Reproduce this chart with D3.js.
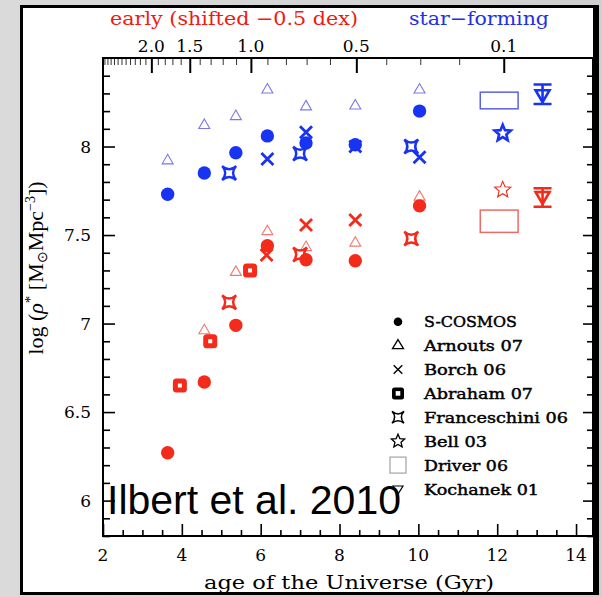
<!DOCTYPE html>
<html><head><meta charset="utf-8">
<script src="https://cdn.jsdelivr.net/npm/d3@7"></script>
<style>body{margin:0;background:#d4d4d4;} svg{display:block}</style>
</head><body><svg id="c" width="602" height="597"></svg>
<script>
// ---------------- data ----------------
const ageCOSMOS   = [3.64, 4.57, 5.37, 6.17, 7.15, 8.40, 10.03];
const sfCOSMOS    = [7.73, 7.85, 7.965, 8.06, 8.02, 8.01, 8.20];
const earlyCOSMOS = [6.27, 6.67, 6.99, 7.44, 7.36, 7.355, 7.665];

const ageArnoutsSF    = [3.64, 4.57, 5.37, 6.17, 7.15, 8.40, 10.03];
const sfArnouts       = [7.92, 8.12, 8.17, 8.32, 8.225, 8.23, 8.32];
const ageArnoutsEarly = [4.57, 5.37, 6.17, 7.15, 8.40, 10.03];
const earlyArnouts    = [6.96, 7.29, 7.52, 7.43, 7.455, 7.715];

const ageBorchSF    = [6.17, 7.15, 8.40, 10.03];
const sfBorch       = [7.93, 8.08, 8.00, 7.94];
const ageBorchEarly = [6.15, 7.15, 8.40];
const earlyBorch    = [7.387, 7.557, 7.585];

const ageAbraham   = [3.95, 4.72, 5.73];
const earlyAbraham = [6.65, 6.90, 7.30];

const ageFranceschini   = [5.20, 7.00, 9.82];
const sfFranceschini    = [7.85, 7.96, 8.00];
const earlyFranceschini = [7.12, 7.39, 7.48];

const ageBell = [12.14], sfBell = [8.075], earlyBell = [7.755];

const ageDriver = [12.05], ageDriverErr = [0.48];
const sfDriver = [8.26], sfDriverErr = [0.047];
const earlyDriver = [7.578], earlyDriverErr = [0.063];

const ageKochanek = [13.15];
const sfKochanek = [8.29], sfKochanekLo = [8.24], sfKochanekHi = [8.35];
const earlyKochanek = [7.715], earlyKochanekLo = [7.66], earlyKochanekHi = [7.764];

const legendLabels = ["S-COSMOS","Arnouts 07","Borch 06","Abraham 07","Franceschini 06","Bell 03","Driver 06","Kochanek 01"];
const xTickLabels = [2, 4, 6, 8, 10, 12, 14];
const yTickLabels = [6, 6.5, 7, 7.5, 8];
const zTickLabels = ["2.0", "1.5", "1.0", "0.5", "0.1"];

// ---------------- setup ----------------
const svg = d3.select("#c");
const BLUE = "#1834f2", RED = "#f42a1a", LBLUE = "#7a78e6", LRED = "#f07a70";
const SERIF = "'DejaVu Serif', serif";

const x = d3.scaleLinear([2, 14.43], [103, 593]);
const y = d3.scaleLinear([5.8, 8.5], [536, 58]);

// age of universe for redshift (flat LCDM, h=0.7, Om=0.3) for top axis
function ageOfZ(z) {
  const tH = 977.8 / 70, Om = 0.3, OL = 0.7;
  return (2 / 3) * tH / Math.sqrt(OL) * Math.asinh(Math.sqrt(OL / Om) * Math.pow(1 + z, -1.5));
}

// background
const defs = svg.append("defs");
const grad = defs.append("linearGradient").attr("id", "bg").attr("x1", 0).attr("x2", 1);
grad.append("stop").attr("offset", "0").attr("stop-color", "#dadada");
grad.append("stop").attr("offset", "1").attr("stop-color", "#cfcfcf");
svg.append("rect").attr("width", 602).attr("height", 597).attr("fill", "url(#bg)");
svg.append("rect").attr("x", 21.5).attr("y", 6.5).attr("width", 574).attr("height", 587)
  .attr("fill", "#fff").attr("stroke", "#000").attr("stroke-width", 3);
svg.append("rect").attr("x", 593).attr("y", 5).attr("width", 6).attr("height", 590).attr("fill", "#000");

// ---------------- axes ----------------
const plot = svg.append("g");
function styleAxis(g) {
  g.select(".domain").remove();
  g.selectAll("line").attr("stroke", "#000").attr("stroke-width", 1.6);
  g.selectAll("text").remove();
}
const xMinor = d3.range(2, 14.5, 0.5).filter(v => v % 2 !== 0);
plot.append("g").attr("transform", `translate(0,${y.range()[0]})`)
  .call(d3.axisTop(x).tickValues(xMinor).tickSize(6)).call(styleAxis);
plot.append("g").attr("transform", `translate(0,${y.range()[0]})`)
  .call(d3.axisTop(x).tickValues(xTickLabels).tickSize(12)).call(styleAxis);

const yMinor = d3.range(5.8, 8.51, 0.1).map(v => +v.toFixed(1)).filter(v => Math.abs(v * 2 - Math.round(v * 2)) > 1e-6);
plot.append("g").attr("transform", `translate(${x.range()[0]},0)`)
  .call(d3.axisRight(y).tickValues(yMinor).tickSize(7)).call(styleAxis);
plot.append("g").attr("transform", `translate(${x.range()[0]},0)`)
  .call(d3.axisRight(y).tickValues(yTickLabels).tickSize(12)).call(styleAxis);
plot.append("g").attr("transform", `translate(${x.range()[1]},0)`)
  .call(d3.axisLeft(y).tickValues(yMinor).tickSize(6)).call(styleAxis);
plot.append("g").attr("transform", `translate(${x.range()[1]},0)`)
  .call(d3.axisLeft(y).tickValues(yTickLabels).tickSize(10)).call(styleAxis);

// top redshift axis
const zMajor = zTickLabels.map(Number);
const zMinor = d3.range(0.2, 3.15, 0.1).map(v => +v.toFixed(1)).filter(v => !zMajor.includes(v));
plot.append("g").attr("transform", `translate(0,${y.range()[1]})`)
  .call(d3.axisBottom(x).tickValues(zMinor.map(ageOfZ)).tickSize(7)).call(styleAxis)
  .selectAll("line").attr("stroke-width", 1).attr("stroke", "#333");
plot.append("g").attr("transform", `translate(0,${y.range()[1]})`)
  .call(d3.axisBottom(x).tickValues(zMajor.map(ageOfZ)).tickSize(15)).call(styleAxis)
  .selectAll("line").attr("stroke-width", 2);

// box
plot.append("rect").attr("x", x.range()[0]).attr("y", y.range()[1])
  .attr("width", x.range()[1] - x.range()[0]).attr("height", y.range()[0] - y.range()[1])
  .attr("fill", "none").attr("stroke", "#000").attr("stroke-width", 2);

// tick labels
svg.append("g").selectAll("text").data(xTickLabels).join("text")
  .attr("x", d => x(d)).attr("y", 561).attr("text-anchor", "middle")
  .attr("font-family", SERIF).attr("font-size", 17).text(d => d);
svg.append("g").selectAll("text").data(yTickLabels).join("text")
  .attr("x", 91).attr("y", d => y(d) + 6).attr("text-anchor", "end")
  .attr("font-family", SERIF).attr("font-size", 17).text(d => d);
svg.append("g").selectAll("text").data(zTickLabels).join("text")
  .attr("x", d => x(ageOfZ(+d))).attr("y", 52).attr("text-anchor", "middle")
  .attr("font-family", SERIF).attr("font-size", 17).text(d => d);

// titles
svg.append("text").attr("x", 110).attr("y", 25).attr("fill", "#f01a10")
  .attr("font-family", SERIF).attr("font-size", 18.5)
  .attr("textLength", 248).attr("lengthAdjust", "spacingAndGlyphs").text("early (shifted \u22120.5 dex)");
svg.append("text").attr("x", 409).attr("y", 25).attr("fill", "#2030e6")
  .attr("font-family", SERIF).attr("font-size", 18.5)
  .attr("textLength", 140).attr("lengthAdjust", "spacingAndGlyphs").text("star\u2212forming");
svg.append("text").attr("x", 204).attr("y", 589)
  .attr("font-family", SERIF).attr("font-size", 19)
  .attr("textLength", 290).attr("lengthAdjust", "spacingAndGlyphs").text("age of the Universe (Gyr)");

const yt = svg.append("text").attr("transform", "translate(43,268) rotate(-90)")
  .attr("text-anchor", "middle").attr("font-family", "'Liberation Serif', serif").attr("font-size", 22);
yt.append("tspan").text("log (");
yt.append("tspan").attr("font-style", "italic").text("\u03c1");
yt.append("tspan").attr("dy", -8).attr("font-size", 15).text("*");
yt.append("tspan").attr("dy", 8).text(" [M");
yt.append("tspan").attr("dy", 4).attr("font-size", 14).text("\u2299");
yt.append("tspan").attr("dy", -4).text("Mpc");
yt.append("tspan").attr("dy", -8).attr("font-size", 14).text("\u22123");
yt.append("tspan").attr("dy", 8).text("])");

// ---------------- marker shapes ----------------
const triPath = (w, h) => `M0,${-h * 2 / 3}L${w},${h / 3}L${-w},${h / 3}Z`;
const xPath = s => `M${-s},${-s}L${s},${s}M${s},${-s}L${-s},${s}`;
const frPath = s => { const c = s * 0.12; return `M${-s},${-s}Q0,${-c} ${s},${-s}Q${c},0 ${s},${s}Q0,${c} ${-s},${s}Q${-c},0 ${-s},${-s}Z`; };
const starPath = (R, r) => { let p = ""; for (let i = 0; i < 10; i++) { const a = -Math.PI / 2 + i * Math.PI / 5, rr = i % 2 ? r : R; p += (i ? "L" : "M") + (rr * Math.cos(a)).toFixed(2) + "," + (rr * Math.sin(a)).toFixed(2); } return p + "Z"; };

function pts(ages, vals) { return ages.map((a, i) => [a, vals[i]]); }
const layer = svg.append("g");

function drawTri(data, col) {
  layer.append("g").selectAll("path").data(data).join("path")
    .attr("transform", d => `translate(${x(d[0])},${y(d[1])})`)
    .attr("d", triPath(5.5, 9.5)).attr("fill", "none").attr("stroke", col).attr("stroke-width", 1.1);
}
function drawX(data, col) {
  layer.append("g").selectAll("path").data(data).join("path")
    .attr("transform", d => `translate(${x(d[0])},${y(d[1])})`)
    .attr("d", xPath(6)).attr("fill", "none").attr("stroke", col).attr("stroke-width", 2.8);
}
function drawFr(data, col) {
  layer.append("g").selectAll("path").data(data).join("path")
    .attr("transform", d => `translate(${x(d[0])},${y(d[1])})`)
    .attr("d", frPath(7)).attr("fill", "#fff").attr("stroke", col).attr("stroke-width", 2.4);
}
function drawAbr(data, col) {
  const g = layer.append("g").selectAll("g").data(data).join("g")
    .attr("transform", d => `translate(${x(d[0])},${y(d[1])})`);
  g.append("rect").attr("x", -7).attr("y", -7).attr("width", 14).attr("height", 14).attr("rx", 3.5).attr("fill", col);
  g.append("rect").attr("x", -2).attr("y", -2).attr("width", 4).attr("height", 4).attr("fill", "#fff");
}
function drawCirc(data, col) {
  layer.append("g").selectAll("circle").data(data).join("circle")
    .attr("cx", d => x(d[0])).attr("cy", d => y(d[1])).attr("r", 6.7).attr("fill", col);
}
function drawStar(data, col, sw) {
  layer.append("g").selectAll("path").data(data).join("path")
    .attr("transform", d => `translate(${x(d[0])},${y(d[1])})`)
    .attr("d", starPath(8.5, 3.8)).attr("fill", "#fff").attr("stroke", col).attr("stroke-width", sw);
}
function drawDriver(ages, ageErr, vals, valErr, col) {
  layer.append("g").selectAll("rect").data(ages).join("rect")
    .attr("x", (d, i) => x(d - ageErr[i])).attr("y", (d, i) => y(vals[i] + valErr[i]))
    .attr("width", (d, i) => x(d + ageErr[i]) - x(d - ageErr[i]))
    .attr("height", (d, i) => y(vals[i] - valErr[i]) - y(vals[i] + valErr[i]))
    .attr("fill", "none").attr("stroke", col).attr("stroke-width", 1.5);
}
function drawKoch(ages, vals, lo, hi, col) {
  const g = layer.append("g").selectAll("g").data(ages).join("g");
  g.append("path").attr("d", (d, i) => {
    const cx = x(d), y1 = y(hi[i]), y2 = y(lo[i]);
    return `M${cx - 9},${y1}H${cx + 9}M${cx - 9},${y2}H${cx + 9}M${cx},${y1}V${y2}`;
  }).attr("stroke", col).attr("stroke-width", 2.6).attr("fill", "none");
  g.append("path").attr("transform", (d, i) => `translate(${x(d)},${y(vals[i])})`)
    .attr("d", "M-7,-5L7,-5L0,7Z").attr("fill", "none").attr("stroke", col).attr("stroke-width", 2.6);
}

// red (early)
drawTri(pts(ageArnoutsEarly, earlyArnouts), LRED);
drawX(pts(ageBorchEarly, earlyBorch), RED);
drawFr(pts(ageFranceschini, earlyFranceschini), RED);
drawAbr(pts(ageAbraham, earlyAbraham), RED);
drawCirc(pts(ageCOSMOS, earlyCOSMOS), RED);
drawStar(pts(ageBell, earlyBell), RED, 1.1);
drawDriver(ageDriver, ageDriverErr, earlyDriver, earlyDriverErr, "#ee6a66");
drawKoch(ageKochanek, earlyKochanek, earlyKochanekLo, earlyKochanekHi, RED);
// blue (star-forming)
drawTri(pts(ageArnoutsSF, sfArnouts), LBLUE);
drawX(pts(ageBorchSF, sfBorch), BLUE);
drawFr(pts(ageFranceschini, sfFranceschini), BLUE);
drawCirc(pts(ageCOSMOS, sfCOSMOS), BLUE);
drawStar(pts(ageBell, sfBell), BLUE, 2.6);
drawDriver(ageDriver, ageDriverErr, sfDriver, sfDriverErr, "#5a62e0");
drawKoch(ageKochanek, sfKochanek, sfKochanekLo, sfKochanekHi, BLUE);

// ---------------- legend ----------------
const legW = [93, 99, 82, 109, 144, 63, 84, 115];
const leg = svg.append("g").selectAll("g").data(legendLabels).join("g")
  .attr("transform", (d, i) => `translate(398,${321.7 + i * 23.9})`);
leg.append("text").attr("x", 26).attr("y", 5.5).attr("font-family", SERIF).attr("font-size", 15)
  .attr("stroke", "#000").attr("stroke-width", 0.45)
  .attr("textLength", (d, i) => legW[i]).attr("lengthAdjust", "spacingAndGlyphs").text(d => d);
leg.each(function (d, i) {
  const g = d3.select(this);
  if (i === 0) g.append("circle").attr("r", 4.3).attr("fill", "#000");
  if (i === 1) g.append("path").attr("d", triPath(5.5, 9)).attr("fill", "none").attr("stroke", "#000").attr("stroke-width", 1.3);
  if (i === 2) g.append("path").attr("d", xPath(4.3)).attr("stroke", "#000").attr("stroke-width", 1.4);
  if (i === 3) {
    g.append("rect").attr("x", -6).attr("y", -6).attr("width", 12).attr("height", 12).attr("rx", 2.5).attr("fill", "#000");
    g.append("rect").attr("x", -2.3).attr("y", -2.3).attr("width", 4.6).attr("height", 4.6).attr("fill", "#fff");
  }
  if (i === 4) g.append("path").attr("d", frPath(6)).attr("fill", "none").attr("stroke", "#000").attr("stroke-width", 1.5);
  if (i === 5) g.append("path").attr("d", starPath(7, 3.2)).attr("fill", "none").attr("stroke", "#000").attr("stroke-width", 1.3);
  if (i === 6) g.append("rect").attr("x", -8).attr("y", -8).attr("width", 16).attr("height", 16).attr("fill", "none").attr("stroke", "#aaa").attr("stroke-width", 1.3);
  if (i === 7) g.append("path").attr("d", "M-5,-3L5,-3L0,5Z").attr("fill", "none").attr("stroke", "#000").attr("stroke-width", 1.2);
});

// big annotation
svg.append("text").attr("x", 107).attr("y", 514).attr("font-family", "'Liberation Sans', Arial, sans-serif")
  .attr("font-size", 41).attr("fill", "#000").text("Ilbert et al. 2010");
</script></body></html>
